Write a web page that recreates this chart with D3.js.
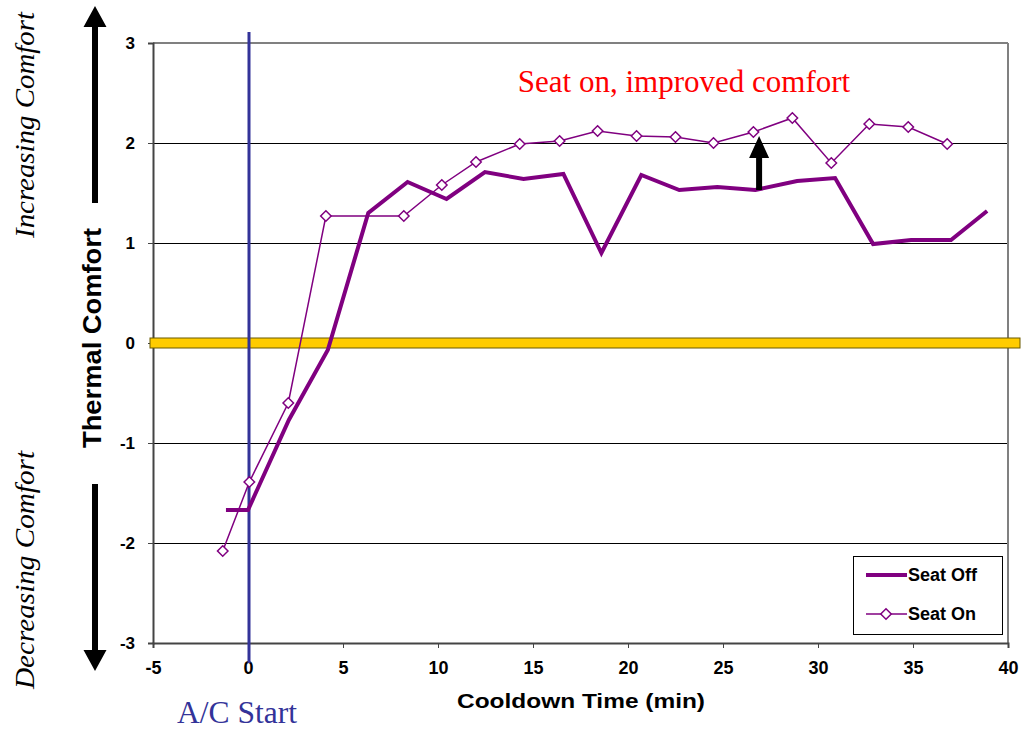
<!DOCTYPE html>
<html><head><meta charset="utf-8">
<script src="https://cdn.jsdelivr.net/npm/d3@7"></script>
<style>body{margin:0;background:#fff}svg{display:block}</style>
</head><body>
<svg id="c" width="1025" height="729"></svg>
<script>
const offX = [-1.16, 0, 2.15, 4.2, 6.33, 8.4, 10.45, 12.47, 14.5, 16.6, 18.6, 20.7, 22.7, 24.7, 26.7, 28.9, 30.9, 32.9, 34.9, 37.0, 38.9];
const offY = [-1.67, -1.67, -0.77, -0.07, 1.30, 1.61, 1.44, 1.71, 1.64, 1.69, 0.90, 1.68, 1.53, 1.56, 1.53, 1.62, 1.65, 0.99, 1.03, 1.03, 1.32];
const onX = [-1.33, 0.07, 2.12, 4.1, 8.2, 10.2, 12.0, 14.3, 16.4, 18.4, 20.45, 22.5, 24.5, 26.6, 28.65, 30.7, 32.7, 34.75, 36.8];
const onY = [-2.08, -1.39, -0.60, 1.27, 1.27, 1.58, 1.81, 1.99, 2.02, 2.12, 2.07, 2.06, 2.00, 2.11, 2.25, 1.80, 2.19, 2.16, 1.99];
const xTicks = [-5, 0, 5, 10, 15, 20, 25, 30, 35, 40];
const yTicks = [-3, -2, -1, 0, 1, 2, 3];
const seriesNames = ["Seat Off", "Seat On"];

const svg = d3.select("#c");
const x = d3.scaleLinear().domain([-5, 40]).range([153, 1008]);
const y = d3.scaleLinear().domain([-3, 3]).range([643, 43]);
const purple = "#800080";
const boldFont = "Arial, 'Liberation Sans', sans-serif";
const serif = "'Times New Roman', 'Liberation Serif', serif";

// gridlines
svg.append("g").selectAll("line").data(yTicks.filter(d => d !== 3 && d !== -3 && d !== 0)).join("line")
  .attr("x1", x(-5)).attr("x2", x(40)).attr("y1", d => y(d) + 0.5).attr("y2", d => y(d) + 0.5)
  .attr("stroke", "#000").attr("stroke-width", 1).attr("shape-rendering", "crispEdges");
// plot border top/right
svg.append("line").attr("x1", x(-5)).attr("x2", x(40)).attr("y1", y(3)).attr("y2", y(3)).attr("stroke", "#808080").attr("stroke-width", 2);
svg.append("line").attr("x1", x(40)).attr("x2", x(40)).attr("y1", y(3)).attr("y2", y(-3)).attr("stroke", "#808080").attr("stroke-width", 2);

// axes
const xAxis = svg.append("g").attr("transform", `translate(0,${y(-3)})`)
  .call(d3.axisBottom(x).tickValues(xTicks).tickSize(5).tickFormat(d => String(d)));
const yAxis = svg.append("g").attr("transform", `translate(${x(-5)},0)`)
  .call(d3.axisLeft(y).tickValues(yTicks).tickSize(5).tickPadding(13).tickFormat(d => String(d)));
[xAxis, yAxis].forEach(a => {
  a.select(".domain").attr("stroke", "#444").attr("stroke-width", 2);
  a.selectAll(".tick line").attr("stroke", "#444");
  a.selectAll("text").attr("font-family", boldFont).attr("font-weight", "bold").attr("font-size", 18).attr("fill", "#000");
});
xAxis.selectAll("text").attr("dy", "0.35em").attr("y", 25);
yAxis.selectAll("text").attr("font-size", 17);

// yellow zero bar
svg.append("rect").attr("x", 150).attr("y", y(0) - 5).attr("width", 870).attr("height", 10)
  .attr("fill", "#FFCC00").attr("stroke", "#6b5a00").attr("stroke-width", 1);

// A/C start vertical line
svg.append("line").attr("x1", x(0) + 1).attr("x2", x(0) + 1).attr("y1", 32).attr("y2", 663)
  .attr("stroke", "#333399").attr("stroke-width", 3);

// lines
const offData = offX.map((d, i) => [d, offY[i]]);
const onData = onX.map((d, i) => [d, onY[i]]);
const line = d3.line().x(d => x(d[0])).y(d => y(d[1]));
svg.append("path").datum(offData).attr("d", line).attr("fill", "none").attr("stroke", purple)
  .attr("stroke-width", 4).attr("stroke-linejoin", "miter");
svg.append("path").datum(onData).attr("d", line).attr("fill", "none").attr("stroke", purple).attr("stroke-width", 1.5);
const diamond = d3.symbol().type(d3.symbolDiamond2).size(70);
svg.append("g").selectAll("path").data(onData).join("path")
  .attr("transform", d => `translate(${x(d[0])},${y(d[1])})`).attr("d", diamond)
  .attr("fill", "#fff").attr("stroke", purple).attr("stroke-width", 1.5);

function arrow(g, cx, yBase, yTip, shaftW, headW, headH) {
  const dir = yTip < yBase ? 1 : -1;
  const yh = yTip + dir * headH;
  g.append("path").attr("d",
    `M${cx - shaftW/2},${yBase} L${cx - shaftW/2},${yh} L${cx - headW/2},${yh} L${cx},${yTip} L${cx + headW/2},${yh} L${cx + shaftW/2},${yh} L${cx + shaftW/2},${yBase} Z`)
    .attr("fill", "#000");
}
arrow(svg, x(26.9), y(1.53), y(2.07), 6, 20, 22);
svg.append("text").attr("x", 684).attr("y", 92).attr("text-anchor", "middle")
  .attr("font-family", serif).attr("font-size", 31).attr("fill", "#ff0000").text("Seat on, improved comfort");

// left annotations
arrow(svg, 95, 203, 6, 6, 23, 21);
arrow(svg, 95, 484, 671, 6, 23, 21);
svg.append("text").attr("transform", "translate(34,125) rotate(-90)").attr("text-anchor", "middle")
  .attr("font-family", serif).attr("font-style", "italic").attr("font-size", 27)
  .attr("textLength", 226).attr("lengthAdjust", "spacingAndGlyphs").text("Increasing Comfort");
svg.append("text").attr("transform", "translate(34,570) rotate(-90)").attr("text-anchor", "middle")
  .attr("font-family", serif).attr("font-style", "italic").attr("font-size", 27)
  .attr("textLength", 238).attr("lengthAdjust", "spacingAndGlyphs").text("Decreasing Comfort");
svg.append("text").attr("transform", "translate(101,338) rotate(-90)").attr("text-anchor", "middle")
  .attr("font-family", boldFont).attr("font-weight", "bold").attr("font-size", 25)
  .attr("textLength", 220).attr("lengthAdjust", "spacingAndGlyphs").text("Thermal Comfort");

// x title and A/C start
svg.append("text").attr("x", 581).attr("y", 708).attr("text-anchor", "middle")
  .attr("font-family", boldFont).attr("font-weight", "bold").attr("font-size", 21)
  .attr("textLength", 248).attr("lengthAdjust", "spacingAndGlyphs").text("Cooldown Time (min)");
svg.append("text").attr("x", 237).attr("y", 723).attr("text-anchor", "middle")
  .attr("font-family", serif).attr("font-size", 31).attr("fill", "#333399")
  .attr("textLength", 120).attr("lengthAdjust", "spacingAndGlyphs").text("A/C Start");

// legend
const lg = svg.append("g");
lg.append("rect").attr("x", 853.5).attr("y", 556.5).attr("width", 149).attr("height", 78)
  .attr("fill", "#fff").attr("stroke", "#000").attr("stroke-width", 1);
const ly = [575, 614];
lg.append("line").attr("x1", 866).attr("x2", 907).attr("y1", ly[0]).attr("y2", ly[0]).attr("stroke", purple).attr("stroke-width", 4);
lg.append("line").attr("x1", 866).attr("x2", 907).attr("y1", ly[1]).attr("y2", ly[1]).attr("stroke", purple).attr("stroke-width", 1.5);
lg.append("path").attr("transform", `translate(886,${ly[1]})`).attr("d", diamond).attr("fill", "#fff").attr("stroke", purple).attr("stroke-width", 1.5);
lg.selectAll("text.l").data(seriesNames).join("text").attr("class", "l")
  .attr("x", 908).attr("y", (d, i) => ly[i] + 6)
  .attr("font-family", boldFont).attr("font-weight", "bold").attr("font-size", 18).text(d => d);
</script>
</body></html>
